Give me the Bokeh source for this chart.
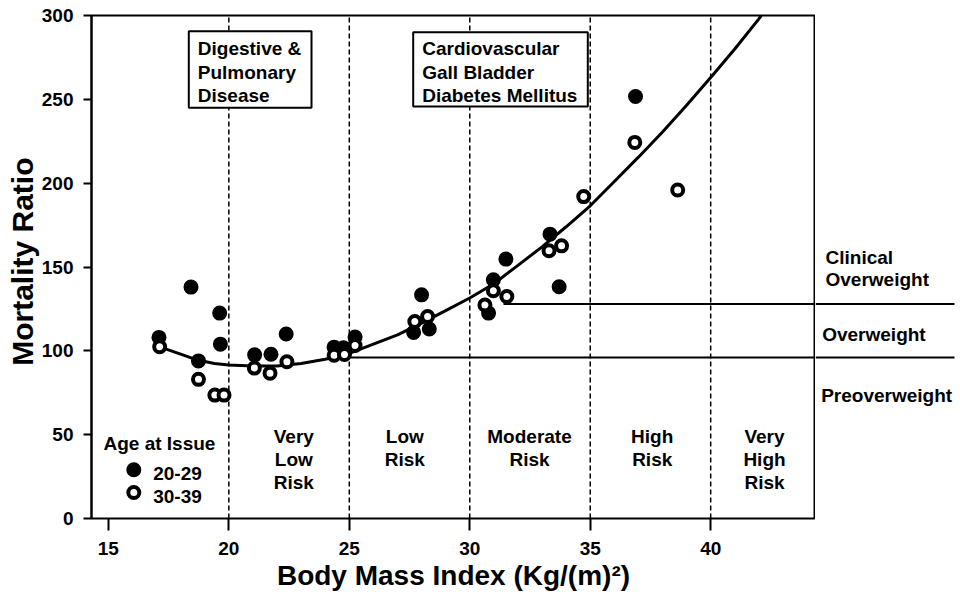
from bokeh.plotting import figure
from bokeh.layouts import row
from bokeh.models import Range1d, FixedTicker, Title
from bokeh.core.properties import value
from bokeh.embed import file_html
from bokeh.resources import INLINE

# ---------------- data ----------------
age2029_bmi = [17.1, 18.43, 18.74, 19.62, 19.65, 21.07, 21.75, 22.38, 24.37, 24.76,
               25.24, 27.67, 28.0, 28.32, 30.78, 30.98, 31.5, 33.33, 33.71, 36.88]
age2029_ratio = [108, 138, 94, 122.5, 104, 97.6, 98, 110, 102.2, 101.8,
                 108.2, 111, 133.4, 113, 122.5, 142.4, 154.7, 169.6, 138.2, 251.7]
age3039_bmi = [17.13, 18.74, 19.42, 19.8, 21.06, 21.71, 22.41, 24.37, 24.8, 25.24,
               27.72, 28.25, 30.63, 30.98, 31.54, 33.29, 33.81, 34.73, 36.85, 38.63]
age3039_ratio = [102.4, 83, 73.6, 73.6, 89.7, 86.7, 93.5, 97.4, 97.8, 103.2,
                 117.5, 120.5, 127.3, 135.8, 132.4, 159.7, 162.6, 192, 224.3, 195.9]
curve_bmi = [17.1, 18.0, 18.7, 19.4, 20, 21, 22, 23, 24, 25, 26, 27, 28, 29, 30,
             31, 32, 33, 34, 35, 36, 37, 38, 39, 40, 41, 42, 42.1]
curve_ratio = [102.5, 98, 94.5, 92.5, 91.5, 91, 91, 92.5, 95, 98.5, 104, 109.5, 116.5,
               124, 131.5, 140, 151, 162, 174, 186.5, 201, 215.5, 230.5, 246.5, 263,
               280, 298, 300]
risk_bounds = [20, 25, 30, 35, 40]
threshold_ratio = [96, 128]
threshold_bmi_start = [25, 31.4]
x_ticks = [15, 20, 25, 30, 35, 40]
y_ticks = [0, 50, 100, 150, 200, 250, 300]
risk_labels = [["Very", "Low", "Risk"], ["Low", "Risk"], ["Moderate", "Risk"],
               ["High", "Risk"], ["Very", "High", "Risk"]]
weight_labels = [["Clinical", "Overweight"], ["Overweight"], ["Preoverweight"]]
disease_labels = [["Digestive &", "Pulmonary", "Disease"],
                  ["Cardiovascular", "Gall Bladder", "Diabetes Mellitus"]]
legend_title = "Age at Issue"
legend_labels = ["20-29", "30-39"]
x_title = "Body Mass Index (Kg/(m)\u00b2)"
y_title = "Mortality Ratio"

# ---------------- layout helpers ----------------
W, H = 960, 597
FX0, FX1 = 91, 815      # main frame (px)
FY0, FY1 = 15, 518
XR = (14.30, 44.35)
YR = (0, 300)
SX = (FX1 - FX0) / (XR[1] - XR[0])
SY = (FY1 - FY0) / (YR[1] - YR[0])


def X(px):
    return XR[0] + (px - FX0) / SX


def Y(py):
    return YR[0] + (FY1 - py) / SY


FONT = "Liberation Sans"
INK = "black"
yr = Range1d(*YR)

p = figure(width=FX1, height=H, output_backend="svg", toolbar_location=None,
           title=None, x_range=Range1d(*XR), y_range=yr,
           min_border_left=FX0, min_border_right=0,
           min_border_top=FY0, min_border_bottom=H - FY1)
p.outline_line_color = INK
p.outline_line_width = 2
p.grid.visible = False
p.background_fill_color = "white"
p.border_fill_color = "white"

# axes
xa = p.xaxis[0]
xa.ticker = FixedTicker(ticks=x_ticks)
xa.axis_line_color = None
xa.major_tick_out = 12
xa.major_tick_in = 0
xa.minor_tick_line_color = None
xa.major_tick_line_width = 2
xa.major_tick_line_color = INK
xa.major_label_standoff = 11
xa.major_label_text_font = FONT
xa.major_label_text_font_style = "bold"
xa.major_label_text_font_size = "19px"
xa.major_label_text_color = INK
xa.axis_label = x_title
xa.axis_label_standoff = 2
xa.axis_label_text_font = FONT
xa.axis_label_text_font_style = "bold"
xa.axis_label_text_font_size = "28px"
xa.axis_label_text_color = INK

ya = p.yaxis[0]
ya.ticker = FixedTicker(ticks=y_ticks)
ya.axis_line_width = 2
ya.axis_line_color = INK
ya.major_tick_out = 8
ya.major_tick_in = 0
ya.minor_tick_line_color = None
ya.major_tick_line_width = 2
ya.major_tick_line_color = INK
ya.major_label_standoff = 10
ya.major_label_text_font = FONT
ya.major_label_text_font_style = "bold"
ya.major_label_text_font_size = "19px"
ya.major_label_text_color = INK

# y axis title as a side title so it can sit where the original has it
p.add_layout(Title(text=y_title, align="right", offset=157 - FY0,
                   text_font=FONT, text_font_style="bold", text_font_size="30px",
                   text_color=INK, standoff=0), "left")

# dashed risk boundaries
p.segment(x0=risk_bounds, y0=[YR[0]] * len(risk_bounds), x1=risk_bounds,
          y1=[YR[1]] * len(risk_bounds), line_color=INK, line_width=1.5,
          line_dash="5 3")

# threshold lines (continue in the side panel)
p.segment(x0=threshold_bmi_start, y0=threshold_ratio,
          x1=[XR[1]] * len(threshold_ratio), y1=threshold_ratio,
          line_color=INK, line_width=2)

# disease boxes
boxes_px = [(188.3, 311, 30.7, 107.3), (412.7, 587.3, 31.7, 106)]
p.quad(left=[X(b[0]) for b in boxes_px], right=[X(b[1]) for b in boxes_px],
       top=[Y(b[2]) for b in boxes_px], bottom=[Y(b[3]) for b in boxes_px],
       fill_color="white", line_color=INK, line_width=2)

txt_kw = dict(text_font=value(FONT), text_font_style="bold",
              text_font_size="19px", text_color=INK, text_baseline="middle")

line_y_px = [48.3, 71.7, 95.0]
tx, ty, tt = [], [], []
for left_px, lines in zip([197.3, 421.7], disease_labels):
    for i, s in enumerate(lines):
        tx.append(X(left_px)); ty.append(Y(line_y_px[i])); tt.append(s)
p.text(x=tx, y=ty, text=tt, text_align="left", **txt_kw)

# risk labels
risk_cx_px = [293.3, 404.3, 529, 651.7, 764]
risk_y_px = [435.5, 459, 481.5]
tx, ty, tt = [], [], []
for cx, lines in zip(risk_cx_px, risk_labels):
    for i, s in enumerate(lines):
        tx.append(X(cx)); ty.append(Y(risk_y_px[i])); tt.append(s)
p.text(x=tx, y=ty, text=tt, text_align="center", **txt_kw)

# fitted curve
p.line(curve_bmi, curve_ratio, line_color=INK, line_width=3)

# data points
p.scatter(age2029_bmi, age2029_ratio, marker="circle", size=15,
          fill_color=INK, line_color=INK, line_width=0)
p.scatter(age3039_bmi, age3039_ratio, marker="circle", size=11,
          fill_color="white", line_color=INK, line_width=4)

# legend (drawn by hand to match the figure's layout)
p.text(x=[X(103)], y=[Y(443)], text=[legend_title], text_align="left", **txt_kw)
p.text(x=[X(152.7), X(152.7)], y=[Y(472.5), Y(496.2)], text=legend_labels,
       text_align="left", **txt_kw)
p.scatter([X(133.3)], [Y(469.3)], marker="circle", size=15,
          fill_color=INK, line_color=INK, line_width=0)
p.scatter([X(133.3)], [Y(492)], marker="circle", size=11,
          fill_color="white", line_color=INK, line_width=4)

# ---------------- right-hand side panel ----------------
SW = W - FX1
p2 = figure(width=SW, height=H, output_backend="svg", toolbar_location=None,
            title=None, x_range=Range1d(0, SW), y_range=yr,
            x_axis_type=None, y_axis_type=None,
            min_border_left=0, min_border_right=0,
            min_border_top=FY0, min_border_bottom=H - FY1)
p2.outline_line_color = None
p2.background_fill_color = "white"
p2.border_fill_color = "white"

p2.segment(x0=[0] * len(threshold_ratio), y0=threshold_ratio,
           x1=[954 - FX1] * len(threshold_ratio), y1=threshold_ratio,
           line_color=INK, line_width=2)

wl_pos = [[(825, 256.7), (825, 279.3)], [(821.7, 333.7)], [(820.7, 395.3)]]
tx, ty, tt = [], [], []
for pos, lines in zip(wl_pos, weight_labels):
    for (lx, ly), s in zip(pos, lines):
        tx.append(lx - FX1); ty.append(Y(ly)); tt.append(s)
p2.text(x=tx, y=ty, text=tt, text_align="left", **txt_kw)

layout = row(p, p2, spacing=0)
open("out.html", "w").write(file_html(layout, INLINE))
